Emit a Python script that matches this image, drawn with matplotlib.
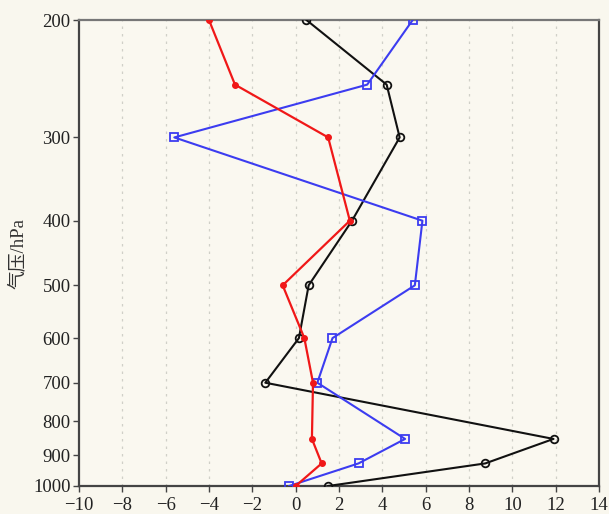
import matplotlib.pyplot as plt
from matplotlib.ticker import FixedLocator, NullLocator

# Pressure levels (hPa)
levels = [200, 250, 300, 400, 500, 600, 700, 850, 925, 1000]

# Three profiles
red_vals = [-4.0, -2.8, 1.5, 2.5, -0.6, 0.4, 0.8, 0.75, 1.2, 0.0]
black_vals = [0.5, 4.2, 4.8, 2.6, 0.6, 0.15, -1.4, 11.9, 8.75, 1.5]
blue_vals = [5.4, 3.3, -5.6, 5.85, 5.5, 1.7, 1.0, 5.05, 2.9, -0.3]

y_ticks = [200, 300, 400, 500, 600, 700, 800, 900, 1000]
x_ticks = list(range(-10, 15, 2))

bg = "#f9f7ee"
plt.rcParams["font.family"] = ["Liberation Serif", "Noto Sans CJK SC"]
plt.rcParams["axes.unicode_minus"] = True

fig = plt.figure(figsize=(6.09, 5.14), dpi=100, facecolor=bg)
ax = fig.add_axes([0.1297, 0.0545, 0.8539, 0.9065])
ax.set_facecolor("#faf8f0")

ax.set_yscale("log")
ax.set_ylim(1000, 200)
ax.set_xlim(-10, 14)

# vertical dotted grid
for xv in x_ticks[1:-1]:
    ax.axvline(xv, color="#d0d0c8", lw=0.9, ls=(0, (2, 4)), zorder=0)

ax.plot(black_vals, levels, color="#111111", lw=1.5, marker="o", ms=5.5,
        mfc="none", mec="#111111", mew=1.3, zorder=3)
ax.plot(blue_vals, levels, color="#3c3cf0", lw=1.5, marker="s", ms=6,
        mfc="none", mec="#3c3cf0", mew=1.3, zorder=3)
ax.plot(red_vals, levels, color="#f01818", lw=1.6, marker="o", ms=4,
        mfc="#f01818", mec="#f01818", zorder=4)

ax.yaxis.set_major_locator(FixedLocator(y_ticks))
ax.yaxis.set_minor_locator(NullLocator())
ax.set_yticklabels([str(v) for v in y_ticks])
ax.set_xticks(x_ticks)
ax.set_xticklabels([str(v).replace("-", "\u2212") for v in x_ticks])

ax.tick_params(axis="both", labelsize=13.5, direction="out", length=4,
               width=1, color="#444444", labelcolor="#222222", pad=2)
ax.tick_params(axis="x", pad=4)

ax.set_ylabel("气压/hPa", fontsize=13.5, color="#333333", labelpad=5,
              family=["Liberation Serif", "Noto Sans CJK SC"])

for side in ["left", "bottom", "right"]:
    ax.spines[side].set_color("#444444")
    ax.spines[side].set_linewidth(1.6)
ax.spines["top"].set_color("#777777")
ax.spines["top"].set_linewidth(1.6)

fig.savefig("out.png", dpi=100, facecolor=bg)
